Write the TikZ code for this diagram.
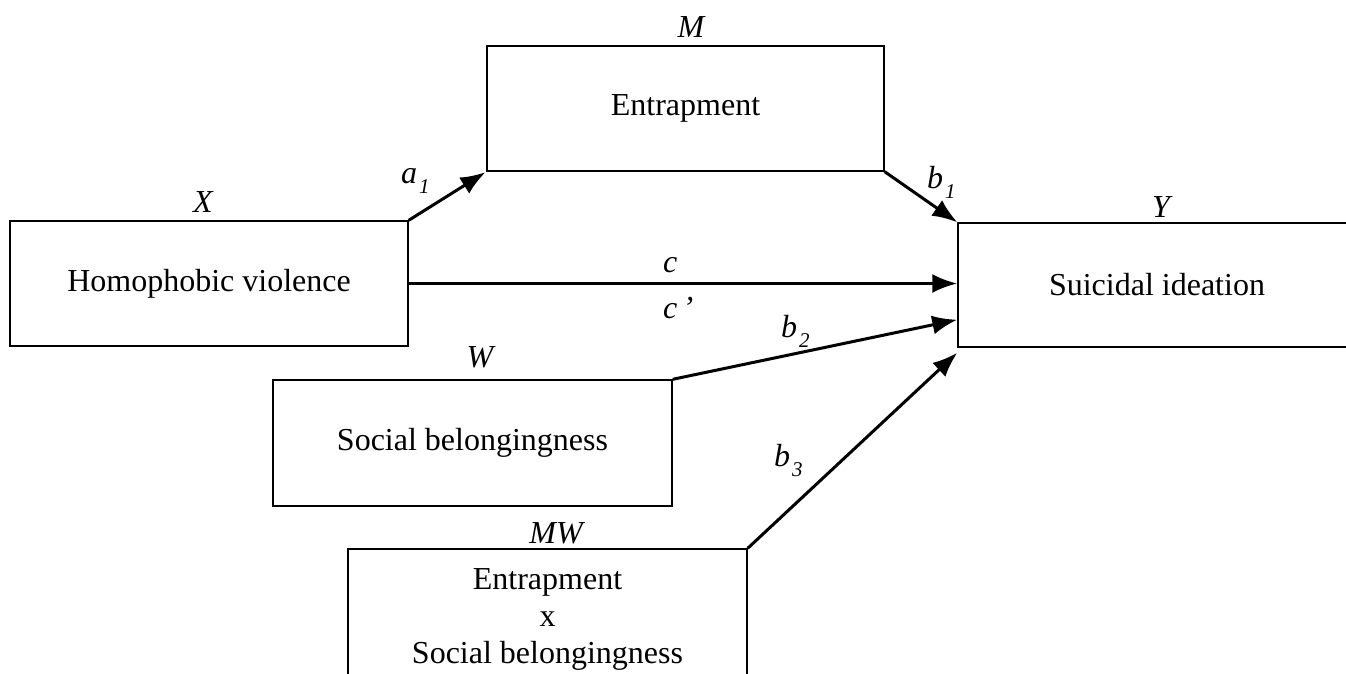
\documentclass[tikz,border=0pt]{standalone}
\usepackage{fontspec}
\setmainfont{Liberation Serif}
\usetikzlibrary{arrows.meta}
\tikzset{
  varbox/.style={draw, line width=1.4pt, rectangle, inner sep=0pt, align=center,
    font=\fontsize{32}{37}\selectfont},
  varlab/.style={font=\fontsize{32}{37}\selectfont\itshape, inner sep=0pt, anchor=base},
  pathlab/.style={font=\fontsize{32}{37}\selectfont\itshape, inner sep=0pt, anchor=base west},
  path/.style={line width=3pt, -{Latex[length=25pt,width=19pt]}}
}
\newcommand{\sbs}[1]{\kern2pt\raisebox{-0.33em}{\fontsize{21}{21}\selectfont\itshape #1}}
\begin{document}
\begin{tikzpicture}[x=1pt,y=-1pt]
\useasboundingbox (0,0) rectangle (1346,673);
\node[varbox, minimum width=398pt, minimum height=125pt] (X) at (209,283.5) {Homophobic violence};
\node[varbox, minimum width=397pt, minimum height=125pt] (M) at (685.5,108.5) {Entrapment};
\node[varbox, minimum width=398pt, minimum height=124pt] (Y) at (1157,285) {Suicidal ideation};
\node[varbox, minimum width=399pt, minimum height=126pt] (W) at (472.5,443) {Social belongingness};
\node[varbox, minimum width=399pt, minimum height=140pt] (MW) at (547.5,619) {Entrapment\\x\\Social belongingness};
\node[varlab] (lX) at (203,212) {X};
\node[varlab] (lM) at (691,37) {M};
\node[varlab] (lY) at (1161,217) {Y};
\node[varlab] (lW) at (480,367) {W};
\node[varlab] (lMW) at (556,543) {MW};
\draw[path, shorten >=1pt] (X.north east) -- (M.south west);
\draw[path] (M.south east) -- (Y.north west);
\draw[path] (X.east) -- (X.east -| Y.west);
\draw[path] (W.north east) -- ([yshift=28pt]Y.south west);
\draw[path] (MW.north east) -- ([yshift=-5pt]Y.south west);
\node[pathlab] (la1) at (401,183) {a\sbs{1}};
\node[pathlab] (lb1) at (927,188) {b\sbs{1}};
\node[pathlab] (lc) at (663,272) {c};
\node[pathlab] (lcp) at (663,318) {c\,’};
\node[pathlab] (lb2) at (781,337) {b\sbs{2}};
\node[pathlab] (lb3) at (774,466) {b\sbs{3}};
\end{tikzpicture}
\end{document}
